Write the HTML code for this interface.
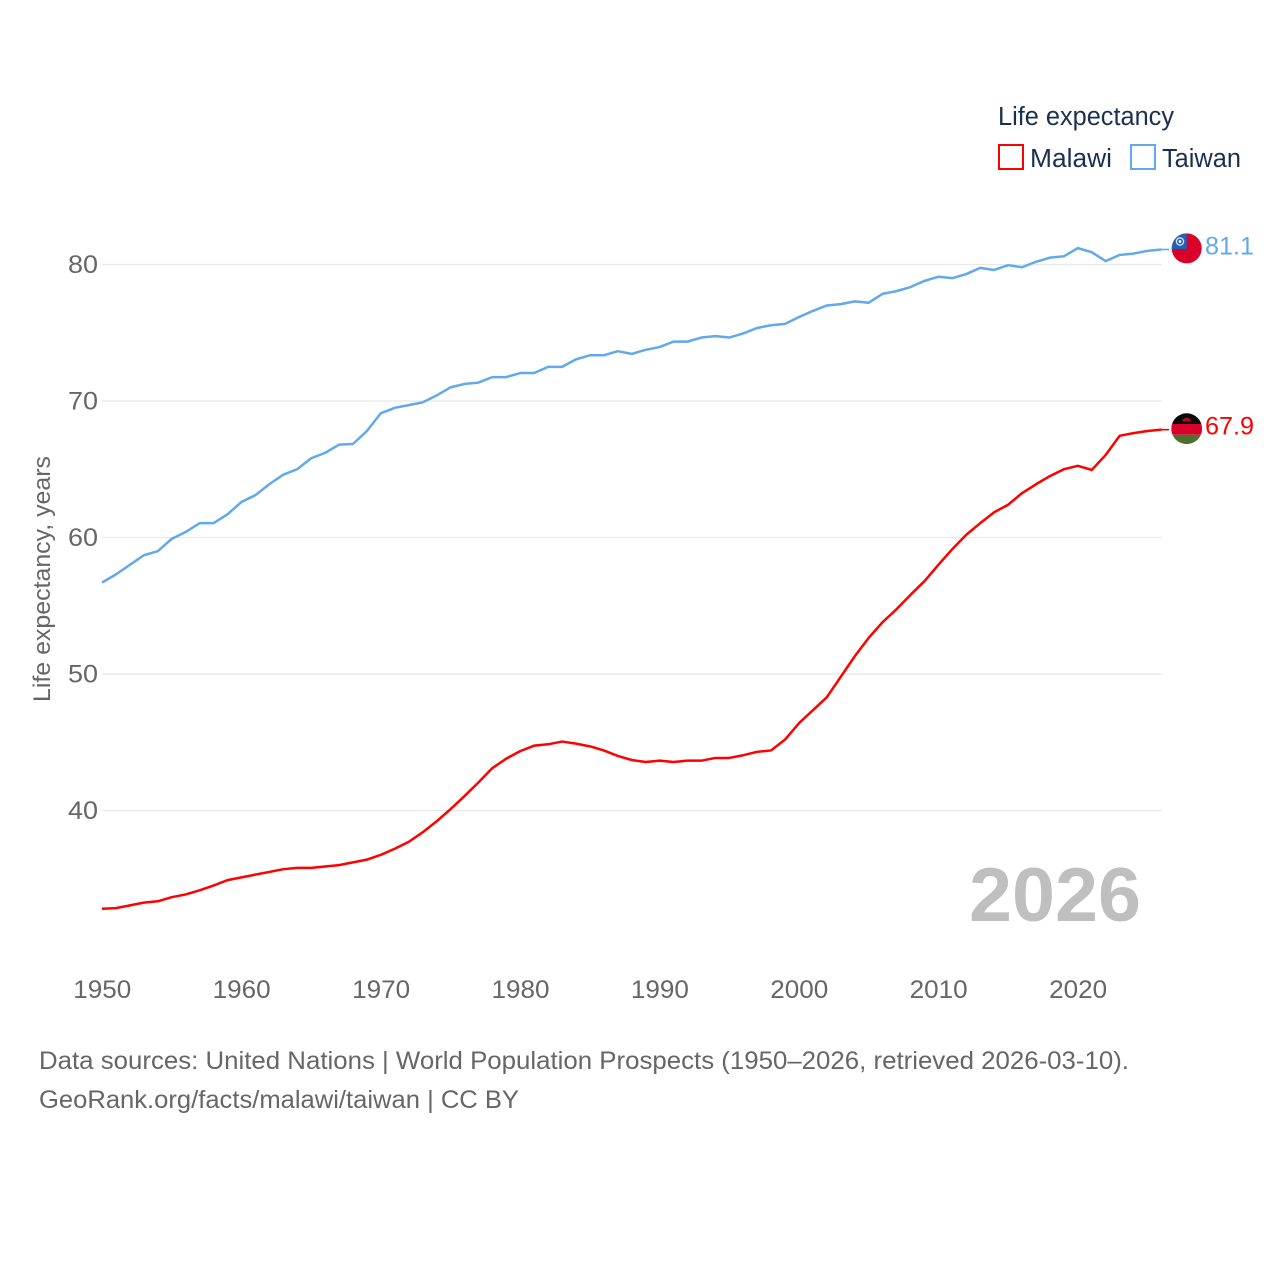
<!DOCTYPE html>
<html lang="en">
<head>
<meta charset="utf-8">
<title>Life expectancy: Malawi vs Taiwan</title>
<style>
html,body{margin:0;padding:0;background:#fff;}
svg{display:block;}
text{font-family:"Liberation Sans",sans-serif;}
</style>
</head>
<body>
<svg id="chart" xmlns="http://www.w3.org/2000/svg" width="1280" height="1280" viewBox="0 0 1280 1280">
  <rect width="1280" height="1280" fill="#fff"/>
  <g id="grid"></g>
  <g id="yticks"></g>
  <g id="xticks"></g>
  <text transform="translate(50,579) rotate(-90)" text-anchor="middle" font-size="24" fill="#666" textLength="246" lengthAdjust="spacingAndGlyphs">Life expectancy, years</text>
  <text x="969" y="921" font-size="76" font-weight="bold" fill="#bfbfbf" textLength="172" lengthAdjust="spacingAndGlyphs">2026</text>
  <g id="series"></g>

  <g>
    <clipPath id="clip-tw"><circle cx="1186.7" cy="248.4" r="15"/></clipPath>
    <g clip-path="url(#clip-tw)">
      <rect x="1171" y="233" width="32" height="32" fill="#d9002a"/>
      <rect x="1171" y="233" width="15.7" height="16" fill="#2160b4"/>
      <circle cx="1180" cy="241.5" r="3.6" fill="none" stroke="#dfe8f5" stroke-width="1.2"/>
      <circle cx="1180" cy="241.5" r="1.4" fill="#fff"/>
    </g>
  </g>
  <g>
    <clipPath id="clip-mw"><circle cx="1186.7" cy="428.7" r="15.4"/></clipPath>
    <g clip-path="url(#clip-mw)">
      <rect x="1171" y="413" width="32" height="11" fill="#0a0a0a"/>
      <rect x="1171" y="424" width="32" height="10.7" fill="#d9002a"/>
      <rect x="1171" y="434.7" width="32" height="10" fill="#4f6f2c"/>
      <path d="M1182 421.5 a4.7 3.8 0 0 1 9.4 0 z" fill="#a8102a"/>
    </g>
  </g>

  <text id="label-taiwan" x="1205" y="254.5" font-size="25" fill="#62a8ec" textLength="49" lengthAdjust="spacingAndGlyphs">81.1</text>
  <text id="label-malawi" x="1205" y="434.5" font-size="25" fill="#ff0000" textLength="49" lengthAdjust="spacingAndGlyphs">67.9</text>

  <g>
    <text x="998" y="125" font-size="25.5" fill="#1a3050" textLength="176" lengthAdjust="spacingAndGlyphs">Life expectancy</text>
    <g>
      <rect x="999" y="145" width="24" height="24" fill="#fff" stroke="#ff0000" stroke-width="2"/>
      <text x="1030" y="167" font-size="25.5" fill="#1a3050" textLength="82" lengthAdjust="spacingAndGlyphs">Malawi</text>
    </g>
    <g>
      <rect x="1131" y="145" width="24" height="24" fill="#fff" stroke="#62a8ec" stroke-width="2"/>
      <text x="1162" y="167" font-size="25.5" fill="#1a3050" textLength="79" lengthAdjust="spacingAndGlyphs">Taiwan</text>
    </g>
  </g>

  <text x="39" y="1069" font-size="25" fill="#666" textLength="1090" lengthAdjust="spacingAndGlyphs">Data sources: United Nations | World Population Prospects (1950–2026, retrieved 2026-03-10).</text>
  <text x="39" y="1108" font-size="25" fill="#666" textLength="480" lengthAdjust="spacingAndGlyphs">GeoRank.org/facts/malawi/taiwan | CC BY</text>
</svg>

<script>
const firstYear = 1950;
const malawiValues = [32.8,32.85,33.05,33.25,33.35,33.65,33.85,34.15,34.5,34.9,35.1,35.3,35.5,35.7,35.8,35.8,35.9,36.0,36.2,36.4,36.75,37.2,37.7,38.4,39.2,40.1,41.05,42.05,43.1,43.8,44.35,44.75,44.85,45.05,44.9,44.7,44.4,44.0,43.7,43.55,43.65,43.55,43.65,43.65,43.85,43.85,44.05,44.3,44.4,45.2,46.4,47.35,48.3,49.8,51.3,52.65,53.8,54.75,55.8,56.8,58.0,59.15,60.2,61.05,61.85,62.4,63.25,63.9,64.5,65.0,65.25,64.95,66.05,67.45,67.65,67.8,67.9];
const taiwanValues = [56.7,57.3,58.0,58.7,59.0,59.9,60.4,61.05,61.05,61.7,62.6,63.1,63.9,64.6,65.0,65.8,66.2,66.8,66.85,67.8,69.1,69.5,69.7,69.9,70.4,71.0,71.25,71.35,71.75,71.75,72.05,72.05,72.5,72.5,73.05,73.35,73.35,73.65,73.45,73.75,73.95,74.35,74.35,74.65,74.75,74.65,74.95,75.35,75.55,75.65,76.15,76.6,77.0,77.1,77.3,77.2,77.85,78.05,78.35,78.8,79.1,79.0,79.3,79.75,79.6,79.95,79.8,80.2,80.5,80.6,81.2,80.9,80.25,80.7,80.8,81.0,81.1];
const yTickValues = [40,50,60,70,80];
const xTickValues = [1950,1960,1970,1980,1990,2000,2010,2020];

const NS = 'http://www.w3.org/2000/svg';
function xScale(year){ return 102 + (year - 1950) * 13.94; }
function yScale(v){ return 264.5 + (80 - v) * 13.65; }
function make(tag, attrs, parent){
  const el = document.createElementNS(NS, tag);
  for (const k in attrs) el.setAttribute(k, attrs[k]);
  parent.appendChild(el);
  return el;
}
const gridG = document.getElementById('grid');
const yG = document.getElementById('yticks');
const xG = document.getElementById('xticks');
const seriesG = document.getElementById('series');

yTickValues.forEach(function(v){
  const line = make('line', {x1:102, x2:1162, y1:yScale(v), y2:yScale(v), stroke:'#e8e8e8', 'stroke-width':1.3}, gridG);
  
  
  const t = make('text', {x:98, y:yScale(v)+8.5, 'text-anchor':'end', 'font-size':25, fill:'#666', textLength:30, lengthAdjust:'spacingAndGlyphs'}, yG);
  
  
  t.textContent = v;
});
xTickValues.forEach(function(y){
  const t = make('text', {x:xScale(y)+0.3, y:998, 'text-anchor':'middle', 'font-size':25, fill:'#666', textLength:58, lengthAdjust:'spacingAndGlyphs'}, xG);
  
  
  t.textContent = y;
});
function drawSeries(values, color, name, labelId){
  const pts = values.map(function(v, i){ return xScale(firstYear + i).toFixed(2) + ',' + yScale(v).toFixed(2); });
  const line = make('polyline', {points: pts.join(' '), fill:'none', stroke:color, 'stroke-width':2.5, 'stroke-linejoin':'round'}, seriesG);
  
  
  const last = values[values.length - 1];
  const endX = xScale(firstYear + values.length - 1);
  const conn = make('line', {x1:endX, x2:1169, y1:yScale(last), y2:yScale(last), stroke:color, 'stroke-width':1.6}, seriesG);
  
  
  const label = document.getElementById(labelId);
  label.textContent = last.toFixed(1);
}
drawSeries(malawiValues, '#ff0000', 'malawi', 'label-malawi');
drawSeries(taiwanValues, '#62a8ec', 'taiwan', 'label-taiwan');
</script>
</body>
</html>
